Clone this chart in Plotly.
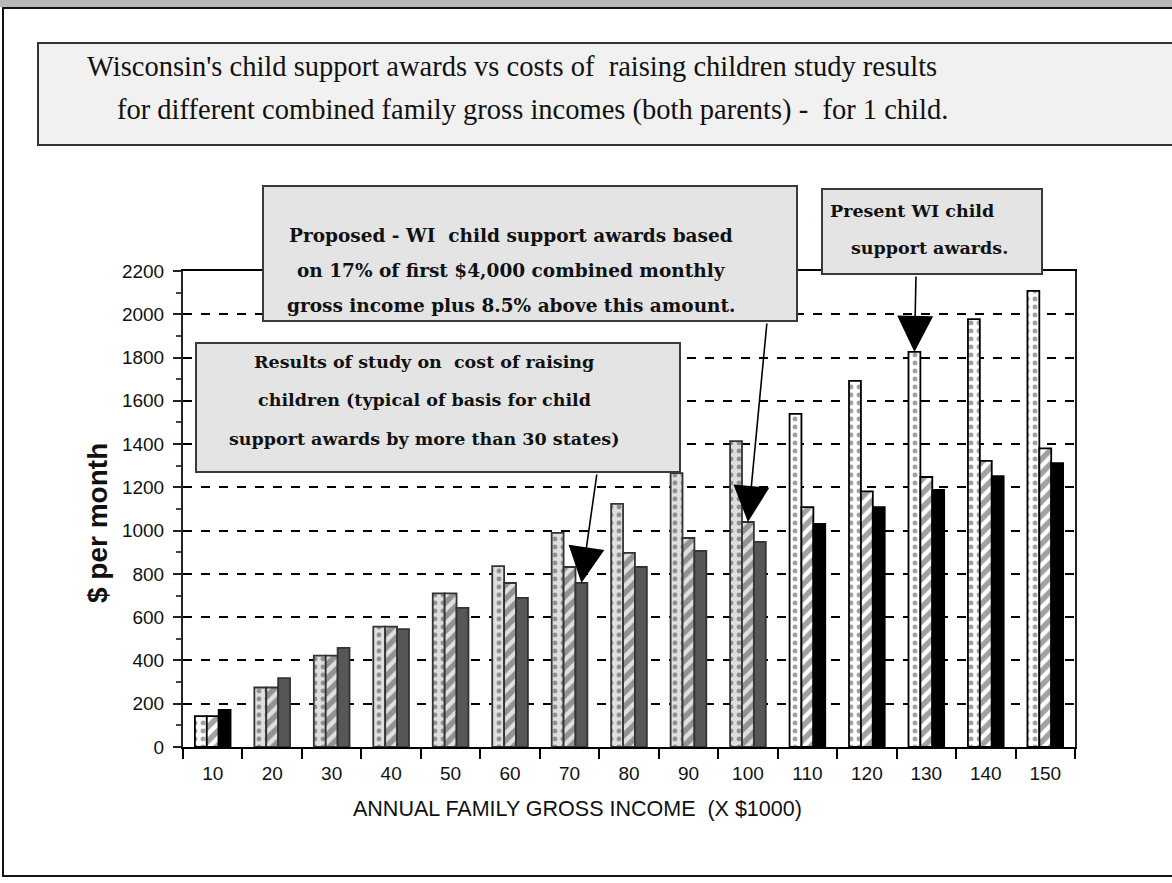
import plotly.graph_objects as go

# Annual family gross income categories (x $1000)
income = ["10", "20", "30", "40", "50", "60", "70", "80", "90", "100",
          "110", "120", "130", "140", "150"]

# $ per month for 1 child
present_wi = [143, 275, 422, 556, 710, 836, 990, 1124, 1266, 1414,
              1540, 1692, 1826, 1978, 2108]
proposed_wi = [143, 275, 422, 556, 710, 758, 832, 897, 966, 1040,
               1109, 1181, 1248, 1322, 1380]
study_cost = [171, 318, 458, 545, 643, 689, 758, 832, 906, 948,
              1031, 1109, 1188, 1252, 1312]

y_tick_values = [0, 200, 400, 600, 800, 1000, 1200, 1400, 1600, 1800, 2000, 2200]

W, H = 1172, 883
L, R, T, B = 183, 97, 271, 136
PW, PH = W - L - R, H - T - B
BARGAP = 0.4


def px(x):
    return (x - L) / PW


def py(y):
    return (H - B - y) / PH


# print-style shading: first and last income groups crisp, middle greyer
crisp = {"10", "110", "120", "130", "140", "150"}
dot_bg = ["#ffffff" if c in crisp else "#dedede" for c in income]
hat_bg = ["#ffffff" if c in crisp else "#e0e0e0" for c in income]
solid = ["#000000" if c in crisp else "#575757" for c in income]
edge = ["#000000" if c in crisp else "#333333" for c in income]

fig = go.Figure()
fig.add_trace(go.Bar(
    x=income, y=present_wi, name="Present WI awards",
    marker=dict(color=dot_bg, line=dict(color=edge, width=1.8),
                pattern=dict(shape=".", fgcolor="#222222", size=8, solidity=0.3,
                             fillmode="overlay")),
))
fig.add_trace(go.Bar(
    x=income, y=proposed_wi, name="Proposed WI awards",
    marker=dict(color=hat_bg, line=dict(color=edge, width=1.8),
                pattern=dict(shape="/", fgcolor="#111111", size=10, solidity=0.55,
                             fillmode="overlay")),
))
fig.add_trace(go.Bar(
    x=income, y=study_cost, name="Cost of raising children study",
    marker=dict(color=solid, line=dict(color=edge, width=1.8)),
))

shapes = []
# outer frame and scan strip along the top edge
shapes.append(dict(type="rect", xref="paper", yref="paper",
                   x0=px(0), x1=px(W), y0=py(0), y1=py(7),
                   fillcolor="#b8b8b8", line=dict(width=0), layer="below"))
shapes.append(dict(type="rect", xref="paper", yref="paper",
                   x0=px(3), x1=px(W + 10), y0=py(876), y1=py(8),
                   fillcolor="rgba(0,0,0,0)", line=dict(color="#111111", width=2)))
# title box
shapes.append(dict(type="rect", xref="paper", yref="paper",
                   x0=px(38), x1=px(W + 10), y0=py(145), y1=py(43),
                   fillcolor="#f1f1f1", line=dict(color="#333333", width=2)))
# callout boxes
for (x0, y0, x1, y1) in [(263, 186, 797, 321), (196, 343, 680, 472), (822, 189, 1042, 274)]:
    shapes.append(dict(type="rect", xref="paper", yref="paper",
                       x0=px(x0), x1=px(x1), y0=py(y1), y1=py(y0),
                       fillcolor="#e4e4e4", line=dict(color="#3a3a3a", width=2),
                       layer="above"))

annotations = []


def text_at(x, y, s, size, family, anchor="center", bold=False, angle=0):
    annotations.append(dict(
        xref="paper", yref="paper", x=px(x), y=py(y), text=("<b>%s</b>" % s) if bold else s,
        showarrow=False, xanchor=anchor, yanchor="middle", textangle=angle,
        font=dict(size=size, family=family, color="#111111")))


serif_title = "Liberation Serif"
serif_box = "DejaVu Serif"
text_at(85, 67, "Wisconsin's child support awards vs costs of  raising children study results",
        28.5, serif_title, anchor="left")
text_at(115, 110, "for different combined family gross incomes (both parents) -  for 1 child.",
        28.5, serif_title, anchor="left")

text_at(511, 235, "Proposed - WI  child support awards based", 18.5, serif_box, bold=True)
text_at(511, 270, "on 17% of first $4,000 combined monthly", 18.5, serif_box, bold=True)
text_at(511, 305, "gross income plus 8.5% above this amount.", 18.5, serif_box, bold=True)

text_at(424, 362, "Results of study on  cost of raising", 17.5, serif_box, bold=True)
text_at(424, 400, "children (typical of basis for child", 17.5, serif_box, bold=True)
text_at(424, 439, "support awards by more than 30 states)", 17.5, serif_box, bold=True)

text_at(912, 211, "Present WI child", 17.5, serif_box, bold=True)
text_at(929, 248, "support awards.", 17.5, serif_box, bold=True)

text_at(97, 523, "$ per month", 28, "Liberation Sans", bold=True, angle=-90)
text_at(577, 809, "ANNUAL FAMILY GROSS INCOME  (X $1000)", 21.5, "Liberation Sans")

# arrows from the callouts to the bars they describe
bar_w = PW / len(income) * (1 - BARGAP) / 3


def arrow(cat, values, shift, tail_x, tail_y):
    i = income.index(cat)
    val = values[i]
    tip_x = L + PW / len(income) * (i + 0.5) + shift * bar_w
    tip_y = H - B - val * PH / 2200
    annotations.append(dict(
        x=i, y=val, xref="x", yref="y", xshift=shift * bar_w, text="",
        showarrow=True, arrowhead=2, arrowsize=4.5, arrowwidth=1.6,
        arrowcolor="#000000", ax=tail_x - tip_x, ay=tail_y - tip_y,
        axref="pixel", ayref="pixel"))


arrow("100", proposed_wi, 0, 767, 322)
arrow("70", study_cost, 1, 597, 473)
arrow("130", present_wi, -1, 916, 275)

fig.update_layout(
    width=W, height=H, autosize=False,
    margin=dict(l=L, r=R, t=T, b=B, pad=0),
    paper_bgcolor="#ffffff", plot_bgcolor="#ffffff",
    barmode="group", bargap=BARGAP, bargroupgap=0,
    showlegend=False,
    shapes=shapes, annotations=annotations,
    xaxis=dict(type="category", categoryorder="array", categoryarray=income,
               range=[-0.5, len(income) - 0.5], autorange=False,
               showgrid=False, showline=True, linecolor="#000000", linewidth=2,
               mirror=True, ticks="outside", tickson="boundaries", ticklen=10,
               tickwidth=2, tickcolor="#000000", tickangle=0, ticklabelstandoff=8,
               tickfont=dict(family="Liberation Sans", size=19, color="#111111")),
    yaxis=dict(range=[0, 2200], autorange=False, tickvals=y_tick_values,
               showgrid=True, gridcolor="#000000", gridwidth=1.6, griddash="dash",
               showline=True, linecolor="#222222", linewidth=2, mirror=True,
               ticks="outside", ticklen=8, tickwidth=2, tickcolor="#222222",
               ticklabelstandoff=5,
               minor=dict(dtick=100, ticks="outside", ticklen=5, tickcolor="#444444",
                          showgrid=False),
               zeroline=False,
               tickfont=dict(family="Liberation Sans", size=19, color="#111111")),
)

fig.write_html("out.html")
